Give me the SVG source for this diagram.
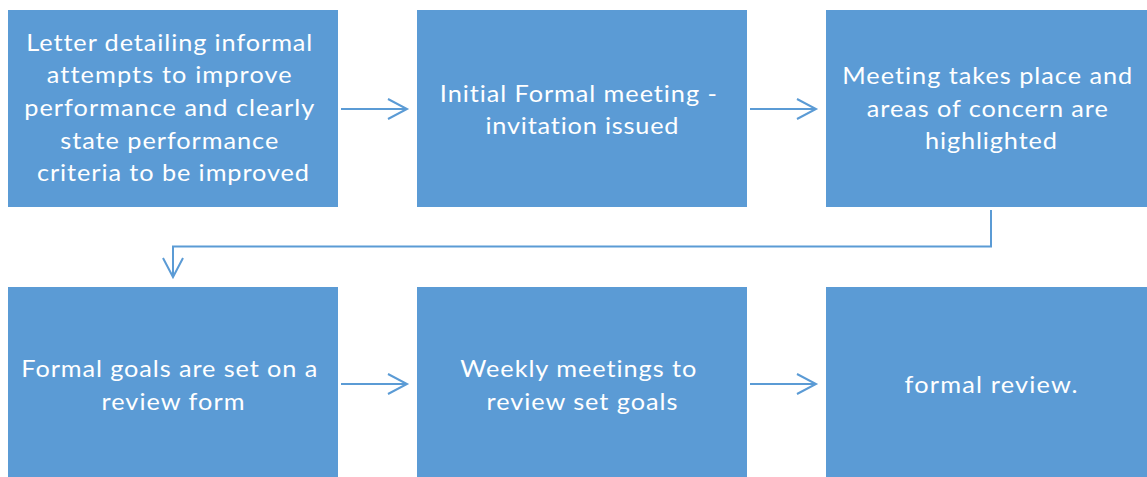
<svg xmlns="http://www.w3.org/2000/svg" width="1147" height="477" viewBox="0 0 1147 477">
  <style>
    .box { fill: #5B9BD5; }
    .lbl { font-family: Lato, "Open Sans", "Liberation Sans", sans-serif; font-size: 23px; fill: #FFFFFF; text-anchor: middle; font-variant-ligatures: none; }
    .conn { fill: none; stroke: #5B9BD5; stroke-width: 2; }
  </style>
  <defs>
    <marker id="chev" markerUnits="userSpaceOnUse" markerWidth="26" markerHeight="26" viewBox="-23 -13 26 26" refX="0" refY="0" orient="auto">
      <path d="M-19,-10 L0,0 L-19,10" fill="none" stroke="#5B9BD5" stroke-width="2"/>
    </marker>
  </defs>
  <rect width="1147" height="477" fill="#FFFFFF"/>

  <g id="connectors">
    <line class="conn" x1="341" y1="109" x2="407" y2="109" marker-end="url(#chev)"/>
    <line class="conn" x1="750" y1="109" x2="816" y2="109" marker-end="url(#chev)"/>
    <path class="conn" d="M991 210 V246.5 H173 V277" marker-end="url(#chev)"/>
    <line class="conn" x1="341" y1="384" x2="407" y2="384" marker-end="url(#chev)"/>
    <line class="conn" x1="750" y1="384" x2="816" y2="384" marker-end="url(#chev)"/>
  </g>

  <!-- labels are widened slightly with a horizontal scale about each box centre -->
  <g id="node-letter">
    <rect class="box" x="8" y="10" width="330" height="197"/>
    <text class="lbl" transform="translate(173 0) scale(1.1 1)" lengthAdjust="spacingAndGlyphs">
      <tspan x="0" y="51" textLength="260">Letter detailing informal</tspan>
      <tspan x="0" y="83.5" textLength="222.7">attempts to improve</tspan>
      <tspan x="0" y="116.2" textLength="263.6">performance and clearly</tspan>
      <tspan x="0" y="148.9" textLength="198.2">state performance</tspan>
      <tspan x="0" y="181.5" textLength="247.3">criteria to be improved</tspan>
    </text>
  </g>

  <g id="node-initial-meeting">
    <rect class="box" x="417" y="10" width="330" height="197"/>
    <text class="lbl" transform="translate(582 0) scale(1.1 1)" lengthAdjust="spacingAndGlyphs">
      <tspan x="0" y="102.5" textLength="251.8">Initial Formal meeting -</tspan>
      <tspan x="0" y="134.5" textLength="175.5">invitation issued</tspan>
    </text>
  </g>

  <g id="node-meeting-held">
    <rect class="box" x="826" y="10" width="330" height="197"/>
    <text class="lbl" transform="translate(991 0) scale(1.1 1)" lengthAdjust="spacingAndGlyphs">
      <tspan x="0" y="84.5" textLength="263.6">Meeting takes place and</tspan>
      <tspan x="0" y="117" textLength="219.1">areas of concern are</tspan>
      <tspan x="0" y="149.5" textLength="120">highlighted</tspan>
    </text>
  </g>

  <g id="node-goals">
    <rect class="box" x="8" y="287" width="330" height="197"/>
    <text class="lbl" transform="translate(173 0) scale(1.1 1)" lengthAdjust="spacingAndGlyphs">
      <tspan x="0" y="377.5" textLength="269.1">Formal goals are set on a</tspan>
      <tspan x="0" y="410" textLength="130">review form</tspan>
    </text>
  </g>

  <g id="node-weekly">
    <rect class="box" x="417" y="287" width="330" height="197"/>
    <text class="lbl" transform="translate(582 0) scale(1.1 1)" lengthAdjust="spacingAndGlyphs">
      <tspan x="0" y="377.5" textLength="214.5">Weekly meetings to</tspan>
      <tspan x="0" y="410" textLength="173.6">review set goals</tspan>
    </text>
  </g>

  <g id="node-review">
    <rect class="box" x="826" y="287" width="330" height="197"/>
    <text class="lbl" transform="translate(991 0) scale(1.1 1)" lengthAdjust="spacingAndGlyphs">
      <tspan x="0" y="393.5" textLength="157.3">formal review.</tspan>
    </text>
  </g>
</svg>
